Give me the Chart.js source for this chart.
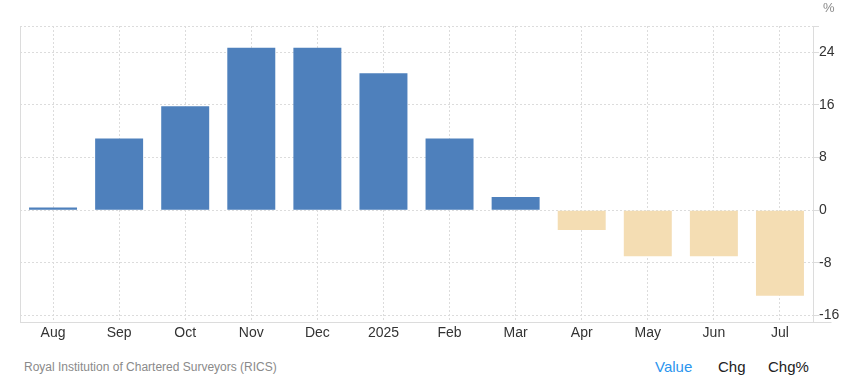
<!DOCTYPE html>
<html lang="en">
<head>
  <meta charset="UTF-8" />
  <title>RICS House Price Balance</title>
  <script src="https://cdn.jsdelivr.net/npm/chart.js"></script>
  <style>
    body {
      margin: 0;
      font-family: "Liberation Sans", Arial, sans-serif;
      background: #fff;
    }
    #wrap {
      position: relative;
      width: 845px;
      height: 388px;
    }
    #chart {
      position: absolute;
      left: 0;
      top: 0;
    }
    .unit {
      position: absolute;
      left: 823px;
      top: 0px;
      font-size: 13px;
      color: #8a8a8a;
    }
    .source {
      position: absolute;
      left: 24px;
      top: 360px;
      font-size: 12px;
      color: #8a8a8a;
    }
    .tabs {
      position: absolute;
      top: 358px;
      font-size: 15px;
      color: #222;
    }
  </style>
</head>
<body>
  <div id="wrap">
    <canvas id="chart" width="845" height="345"></canvas>
    <div class="unit">%</div>
    <div class="source">Royal Institution of Chartered Surveyors (RICS)</div>
    <div class="tabs" style="left:655px;color:#2b95ee">Value</div>
    <div class="tabs" style="left:718px">Chg</div>
    <div class="tabs" style="left:768px">Chg%</div>
  </div>

  <script>
    const months = ['Aug', 'Sep', 'Oct', 'Nov', 'Dec', '2025', 'Feb', 'Mar', 'Apr', 'May', 'Jun', 'Jul'];
    const balance = [0.4, 10.9, 15.8, 24.7, 24.7, 20.8, 10.9, 2.0, -3.0, -7.0, -7.0, -13.0];
    const yTicks = [-16, -8, 0, 8, 16, 24, 28];  // 28 = top edge, no label
    const yLabels = [-16, -8, 0, 8, 16, 24];

    const gridColor = '#dcdcdc';

    // solid edges of the plot area (left, right, bottom)
    const edges = {
      id: 'edges',
      afterDraw(chart) {
        const { ctx, chartArea } = chart;
        const l = Math.round(chartArea.left) + 0.5;
        const r = Math.round(chartArea.right) + 0.5;
        const b = Math.round(chartArea.bottom) + 0.5;
        ctx.save();
        ctx.setLineDash([]);
        ctx.strokeStyle = gridColor;
        ctx.lineWidth = 1;
        ctx.beginPath();
        ctx.moveTo(l, chartArea.top);
        ctx.lineTo(l, b);
        ctx.lineTo(r + 18, b);
        ctx.moveTo(r, chartArea.top);
        ctx.lineTo(r, b);
        ctx.stroke();
        ctx.restore();
      }
    };

    new Chart(document.getElementById('chart'), {
      type: 'bar',
      data: {
        labels: months,
        datasets: [{
          data: balance,
          backgroundColor: balance.map(v => v >= 0 ? '#4e80bc' : '#f4ddb3'),
          borderWidth: 0,
          barPercentage: 0.726,
          categoryPercentage: 1.0
        }]
      },
      options: {
        responsive: false,
        animation: false,
        layout: { padding: { left: 20, top: 26, right: 0, bottom: 0 } },
        plugins: {
          legend: { display: false },
          tooltip: { enabled: false }
        },
        scales: {
          x: {
            grid: {
              offset: false,
              color: gridColor,
              drawTicks: false
            },
            border: { color: gridColor, dash: [2, 2] },
            ticks: {
              color: '#333',
              font: { family: '"Liberation Sans", Arial, sans-serif', size: 14 },
              padding: 3,
              maxRotation: 0
            },
            afterFit(scale) { scale.height = 23; }
          },
          y: {
            position: 'right',
            min: -17,
            max: 28,
            afterBuildTicks(scale) {
              scale.ticks = yTicks.map(v => ({ value: v }));
            },
            grid: {
              color: gridColor,
              tickLength: 6
            },
            border: { color: gridColor, dash: [2, 2] },
            ticks: {
              color: '#333',
              font: { family: '"Liberation Sans", Arial, sans-serif', size: 14 },
              padding: 0,
              callback: v => yLabels.includes(v) ? String(v) : ''
            },
            afterFit(scale) { scale.width = 32; }
          }
        }
      },
      plugins: [edges]
    });
  </script>
</body>
</html>
